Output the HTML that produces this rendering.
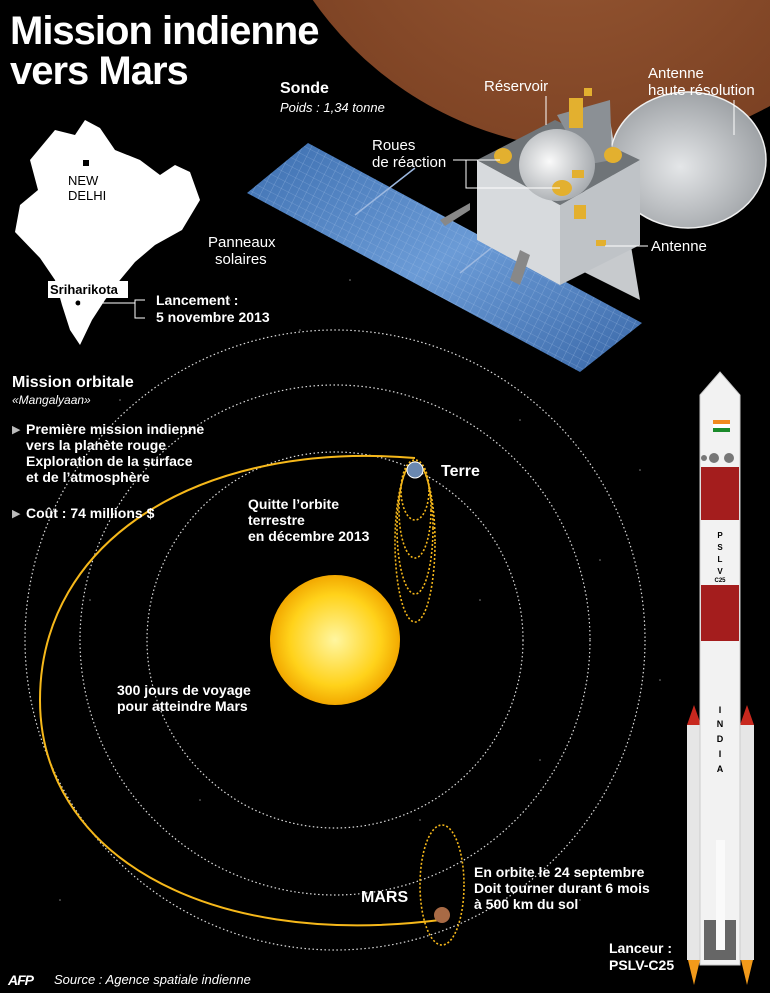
<!DOCTYPE html>
<html><head><meta charset="utf-8"><style>
body{margin:0;background:#000;width:770px;height:993px;overflow:hidden;font-family:"Liberation Sans",Arial,sans-serif}
svg{display:block}
text{font-family:"Liberation Sans",Arial,sans-serif;fill:#fff}
.b{font-weight:bold}
</style></head><body>
<svg width="770" height="993" viewBox="0 0 770 993" xmlns="http://www.w3.org/2000/svg">
<defs>
<radialGradient id="sun" cx="50%" cy="50%" r="50%"><stop offset="0" stop-color="#fff6a0"/><stop offset=".7" stop-color="#ffd21a"/><stop offset="1" stop-color="#f2a800"/></radialGradient>
<radialGradient id="mars" cx="45%" cy="60%" r="60%"><stop offset="0" stop-color="#9a5a35"/><stop offset=".8" stop-color="#7a4022"/><stop offset="1" stop-color="#3e1e0e"/></radialGradient>
<radialGradient id="dome" cx="40%" cy="45%" r="60%"><stop offset="0" stop-color="#fafafa"/><stop offset="1" stop-color="#a8acb0"/></radialGradient>
<radialGradient id="dish" cx="45%" cy="55%" r="60%"><stop offset="0" stop-color="#e4e6e8"/><stop offset="1" stop-color="#9a9ea2"/></radialGradient>
<linearGradient id="pan" x1="0" y1="0" x2="1" y2="1"><stop offset="0" stop-color="#3d6fb0"/><stop offset=".5" stop-color="#6b9bd6"/><stop offset="1" stop-color="#3a68a8"/></linearGradient>
<pattern id="grid" width="8" height="8" patternUnits="userSpaceOnUse" patternTransform="rotate(27)"><path d="M0 0H8M0 0V8" stroke="#a8c4ea" stroke-width=".6" fill="none"/></pattern>
</defs>
<rect width="770" height="993" fill="#000"/>
<g fill="#fff" opacity=".5">
<circle cx="120" cy="400" r=".8"/><circle cx="300" cy="330" r=".8"/><circle cx="520" cy="420" r=".8"/><circle cx="600" cy="560" r=".8"/><circle cx="90" cy="600" r=".8"/><circle cx="200" cy="800" r=".8"/><circle cx="540" cy="760" r=".8"/><circle cx="640" cy="470" r=".8"/><circle cx="420" cy="820" r=".8"/><circle cx="260" cy="540" r=".8"/><circle cx="60" cy="900" r=".8"/><circle cx="580" cy="900" r=".8"/><circle cx="230" cy="300" r=".8"/><circle cx="660" cy="680" r=".8"/><circle cx="350" cy="280" r=".8"/><circle cx="480" cy="600" r=".8"/>
</g>
<circle cx="600" cy="-200" r="350" fill="url(#mars)"/>
<path d="M610 120 L640 300 L560 260 Z" fill="#c7cacd"/>
<ellipse cx="688" cy="160" rx="78" ry="68" fill="url(#dish)" stroke="#f0f0f0" stroke-width="1.5"/>
<polygon points="247,193 308,143 642,323 580,372" fill="url(#pan)"/>
<polygon points="247,193 308,143 642,323 580,372" fill="url(#grid)" opacity=".7"/>
<path d="M355 215 L415 168 M460 273 L520 225" stroke="#9cb8e0" stroke-width="1.5"/>
<path d="M440 220 L470 203 L470 210 L445 226 Z" fill="#888"/>
<polygon points="477,160 555,120 640,160 560,205" fill="#6f7478"/>
<polygon points="477,160 560,205 560,285 477,240" fill="#d7dadd"/>
<polygon points="560,205 640,160 640,245 560,285" fill="#bfc3c7"/>
<path d="M520 250 L510 280 L520 285 L530 255 Z" fill="#888"/>
<path d="M557 115 L610 100 L612 160 L585 165 Z" fill="#8b9095"/>
<ellipse cx="557" cy="165" rx="38" ry="36" fill="url(#dome)"/>
<g fill="#e3b02f"><ellipse cx="503" cy="156" rx="9" ry="8"/><ellipse cx="613" cy="155" rx="9" ry="8"/><ellipse cx="562" cy="188" rx="10" ry="8"/><rect x="572" y="170" width="12" height="8"/><rect x="574" y="205" width="12" height="14"/><rect x="596" y="240" width="10" height="6"/><rect x="569" y="98" width="14" height="30"/><rect x="584" y="88" width="8" height="8"/></g>
<path d="M30 160 L55 130 L75 135 L85 120 L100 128 L115 150 L140 160 L160 175 L175 165 L190 172 L200 200 L182 230 L155 245 L135 262 L120 280 L105 300 L92 320 L80 345 L70 330 L62 305 L55 280 L40 258 L15 232 L20 205 L38 190 Z" fill="#fff"/>
<rect x="48" y="281" width="80" height="17" fill="#fff"/>
<rect x="83" y="160" width="6" height="6" fill="#000"/>
<text x="68" y="185" font-size="13" style="fill:#000">NEW</text>
<text x="68" y="200" font-size="13" style="fill:#000">DELHI</text>
<text x="50" y="294" font-size="13" class="b" style="fill:#000">Sriharikota</text>
<circle cx="78" cy="303" r="3" fill="#000" stroke="#fff"/>
<path d="M80 303 H135 V300 H145 M135 303 V318 H145" stroke="#fff" fill="none"/>
<circle cx="335" cy="640" r="310" fill="none" stroke="#ddd" stroke-width="1.2" stroke-dasharray="1.5 2.5"/>
<circle cx="335" cy="640" r="255" fill="none" stroke="#ddd" stroke-width="1.2" stroke-dasharray="1.5 2.5"/>
<circle cx="335" cy="640" r="188" fill="none" stroke="#ddd" stroke-width="1.2" stroke-dasharray="1.5 2.5"/>
<path d="M415 458 C200 440 40 540 40 700 C40 850 200 950 440 920" fill="none" stroke="#f6b81a" stroke-width="2"/>
<g fill="none" stroke="#f6b81a" stroke-width="1.6" stroke-dasharray="2 2">
<ellipse cx="415" cy="490" rx="14" ry="30"/><ellipse cx="415" cy="510" rx="16" ry="48"/><ellipse cx="415" cy="528" rx="18" ry="66"/><ellipse cx="415" cy="542" rx="20" ry="80"/>
<ellipse cx="442" cy="885" rx="22" ry="60"/>
</g>
<circle cx="415" cy="470" r="8" fill="#6a88b0" stroke="#fff"/>
<circle cx="442" cy="915" r="8" fill="#a86a45"/>
<circle cx="335" cy="640" r="65" fill="url(#sun)"/>
<g>
<rect x="687" y="725" width="14" height="235" fill="#e6e6e6"/><rect x="740" y="725" width="14" height="235" fill="#e6e6e6"/>
<path d="M687 725 L694 705 L701 725Z M740 725 L747 705 L754 725Z" fill="#c8281e"/>
<path d="M700 395 L720 372 L740 395 L740 965 L700 965Z" fill="#f2f2f2" stroke="#ccc"/>
<rect x="701" y="467" width="38" height="53" fill="#a41d1d"/>
<rect x="701" y="585" width="38" height="56" fill="#a41d1d"/>
<rect x="713" y="420" width="17" height="4" fill="#f08a1e"/><rect x="713" y="424" width="17" height="4" fill="#fff"/><rect x="713" y="428" width="17" height="4" fill="#1a8a2a"/>
<circle cx="704" cy="458" r="3" fill="#777"/><circle cx="714" cy="458" r="5" fill="#777"/><circle cx="729" cy="458" r="5" fill="#777"/>
<rect x="704" y="920" width="32" height="40" fill="#666"/>
<rect x="716" y="840" width="9" height="110" fill="#fafafa"/>
<path d="M688 960 L694 985 L700 960Z M741 960 L747 985 L753 960Z" fill="#f29a1a"/>
<text x="720" y="713" font-size="9" class="b" text-anchor="middle" style="fill:#000">I</text>
<text x="720" y="727" font-size="9" class="b" text-anchor="middle" style="fill:#000">N</text>
<text x="720" y="742" font-size="9" class="b" text-anchor="middle" style="fill:#000">D</text>
<text x="720" y="757" font-size="9" class="b" text-anchor="middle" style="fill:#000">I</text>
<text x="720" y="772" font-size="9" class="b" text-anchor="middle" style="fill:#000">A</text>
</g>
<text x="720" y="538" font-size="8" class="b" text-anchor="middle" style="fill:#000">P</text>
<text x="720" y="550" font-size="8" class="b" text-anchor="middle" style="fill:#000">S</text>
<text x="720" y="562" font-size="8" class="b" text-anchor="middle" style="fill:#000">L</text>
<text x="720" y="574" font-size="8" class="b" text-anchor="middle" style="fill:#000">V</text>
<text x="720" y="582" font-size="6" class="b" text-anchor="middle" style="fill:#000">C25</text>
<text x="10" y="44" font-size="40" class="b" letter-spacing="-1">Mission indienne</text>
<text x="10" y="84" font-size="40" class="b" letter-spacing="-1">vers Mars</text>
<text x="280" y="93" font-size="16" class="b">Sonde</text>
<text x="280" y="112" font-size="13" font-style="italic">Poids : 1,34 tonne</text>
<text x="484" y="91" font-size="15">Réservoir</text>
<path d="M546 96 V125" stroke="#fff"/>
<text x="648" y="78" font-size="15">Antenne</text>
<text x="648" y="95" font-size="15">haute résolution</text>
<path d="M734 100 V135" stroke="#fff"/>
<text x="372" y="150" font-size="15">Roues</text>
<text x="372" y="167" font-size="15">de réaction</text>
<path d="M453 160 H500 M466 160 V188 H560" stroke="#fff" fill="none"/>
<text x="208" y="247" font-size="15">Panneaux</text>
<text x="215" y="264" font-size="15">solaires</text>
<text x="651" y="251" font-size="15">Antenne</text>
<path d="M605 246 H648" stroke="#fff"/>
<text x="156" y="305" font-size="14" class="b">Lancement :</text>
<text x="156" y="322" font-size="14" class="b">5 novembre 2013</text>
<text x="12" y="387" font-size="16" class="b">Mission orbitale</text>
<text x="12" y="404" font-size="12" font-style="italic">«Mangalyaan»</text>
<text x="12" y="433" font-size="11" style="fill:#bbb">▶</text>
<text x="26" y="434" font-size="14" class="b">Première mission indienne</text>
<text x="26" y="450" font-size="14" class="b">vers la planète rouge</text>
<text x="26" y="466" font-size="14" class="b">Exploration de la surface</text>
<text x="26" y="482" font-size="14" class="b">et de l’atmosphère</text>
<text x="12" y="517" font-size="11" style="fill:#bbb">▶</text>
<text x="26" y="518" font-size="14" class="b">Coût : 74 millions $</text>
<text x="441" y="476" font-size="16" class="b">Terre</text>
<text x="248" y="509" font-size="14" class="b">Quitte l’orbite</text>
<text x="248" y="525" font-size="14" class="b">terrestre</text>
<text x="248" y="541" font-size="14" class="b">en décembre 2013</text>
<text x="117" y="695" font-size="14" class="b">300 jours de voyage</text>
<text x="117" y="711" font-size="14" class="b">pour atteindre Mars</text>
<text x="361" y="902" font-size="16" class="b">MARS</text>
<text x="474" y="877" font-size="14" class="b">En orbite le 24 septembre</text>
<text x="474" y="893" font-size="14" class="b">Doit tourner durant 6 mois</text>
<text x="474" y="909" font-size="14" class="b">à 500 km du sol</text>
<text x="609" y="953" font-size="14" class="b">Lanceur :</text>
<text x="609" y="970" font-size="14" class="b">PSLV-C25</text>
<text x="8" y="985" font-size="14" class="b" font-style="italic" letter-spacing="-1">AFP</text>
<text x="54" y="984" font-size="13" font-style="italic">Source :  Agence spatiale indienne</text>
</svg>
</body></html>
